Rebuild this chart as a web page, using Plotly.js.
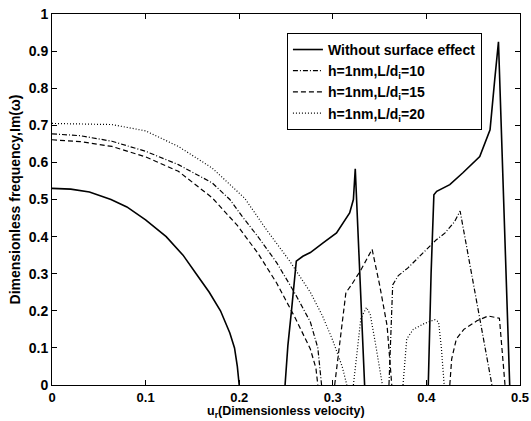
<!DOCTYPE html>
<html>
<head>
<meta charset="utf-8">
<script src="https://cdn.plot.ly/plotly-3.0.1.min.js"></script>
<style>html,body{margin:0;padding:0;background:#fff;}#chart{width:531px;height:421px;}</style>
</head>
<body>
<div id="chart"></div>
<script>
// Series names
var seriesNames = ["Without surface effect", "h=1nm,L/d<sub>i</sub>=10", "h=1nm,L/d<sub>i</sub>=15", "h=1nm,L/d<sub>i</sub>=20"];
var xTitle = "u<sub>r</sub>(Dimensionless velocity)";
var yTitle = "Dimensionless frequency,Im(ω)";

// Without surface effect (solid)
var solidX = [0,0.02,0.04,0.063,0.08,0.10,0.122,0.14,0.154,0.168,0.18,0.19,0.195,0.198,0.2, null,
              0.249,0.252,0.256,0.261,0.268,0.276,0.29,0.304,0.318,0.322,0.324,0.334, null,
              0.402,0.405,0.408,0.411,0.425,0.439,0.457,0.468,0.473,0.477,0.489];
var solidY = [0.53,0.528,0.52,0.50,0.48,0.445,0.40,0.35,0.30,0.25,0.20,0.14,0.10,0.05,0, null,
              0,0.106,0.204,0.334,0.347,0.357,0.384,0.41,0.464,0.50,0.583,0, null,
              0,0.3,0.513,0.522,0.54,0.572,0.616,0.688,0.823,0.925,0];

// h=1nm, L/di=10 (dash-dot)
var ld10X = [0,0.03,0.064,0.1,0.135,0.171,0.19,0.203,0.22,0.24,0.26,0.276,0.284,0.288, null,
             0.36,0.362,0.364,0.37,0.38,0.39,0.40,0.41,0.42,0.43,0.436,0.453,0.47];
var ld10Y = [0.677,0.672,0.657,0.63,0.594,0.545,0.50,0.455,0.40,0.33,0.245,0.17,0.1,0, null,
             0,0.15,0.27,0.295,0.315,0.34,0.365,0.39,0.41,0.44,0.469,0.235,0];

// h=1nm, L/di=15 (dashed)
var ld15X = [0,0.03,0.064,0.1,0.135,0.171,0.198,0.22,0.24,0.26,0.276,0.282,0.284, null,
             0.302,0.308,0.314,0.32,0.33,0.342,0.35,0.358,0.363, null,
             0.425,0.427,0.432,0.44,0.454,0.466,0.478,0.481,0.484];
var ld15Y = [0.661,0.656,0.643,0.615,0.576,0.505,0.43,0.355,0.275,0.18,0.097,0.045,0, null,
             0,0.13,0.249,0.27,0.31,0.366,0.27,0.16,0, null,
             0,0.07,0.124,0.15,0.173,0.186,0.18,0.1,0];

// h=1nm, L/di=20 (dotted)
var ld20X = [0,0.03,0.064,0.1,0.135,0.171,0.206,0.229,0.254,0.276,0.289,0.30,0.31,0.315, null,
             0.322,0.326,0.33,0.336,0.34,0.345,0.35,0.353, null,
             0.375,0.379,0.386,0.398,0.409,0.413,0.416,0.419];
var ld20Y = [0.705,0.704,0.702,0.685,0.643,0.585,0.503,0.419,0.334,0.25,0.186,0.12,0.05,0, null,
             0,0.1,0.18,0.209,0.19,0.12,0.05,0, null,
             0,0.124,0.15,0.166,0.176,0.17,0.1,0];

var xTicks = [0,0.1,0.2,0.3,0.4,0.5];
var yTicks = [0,0.1,0.2,0.3,0.4,0.5,0.6,0.7,0.8,0.9,1];

var fontFam = "Liberation Sans, Arial, sans-serif";
var fs = 14;

var traces = [
  {x: solidX, y: solidY, mode: "lines", name: seriesNames[0], line: {color: "#000", width: 1.6, dash: "solid"}},
  {x: ld10X, y: ld10Y, mode: "lines", name: seriesNames[1], line: {color: "#000", width: 1.2, dash: "5px,2px,1px,2px"}},
  {x: ld15X, y: ld15Y, mode: "lines", name: seriesNames[2], line: {color: "#000", width: 1.2, dash: "5px,3px"}},
  {x: ld20X, y: ld20Y, mode: "lines", name: seriesNames[3], line: {color: "#000", width: 1.2, dash: "1px,2px"}}
];

var axisCommon = {
  showgrid: false, zeroline: false, showline: true, linecolor: "#000", linewidth: 1,
  mirror: "ticks", ticks: "inside", ticklen: 5, tickcolor: "#000",
  tickfont: {family: fontFam, size: fs, color: "#000", weight: "bold"}
};

var layout = {
  width: 531, height: 421,
  margin: {l: 52, r: 11, t: 14, b: 36},
  paper_bgcolor: "#fff", plot_bgcolor: "#fff",
  font: {family: fontFam, size: fs, color: "#000", weight: "bold"},
  showlegend: true,
  legend: {
    x: 0.502, y: 0.949, xanchor: "left", yanchor: "top",
    bgcolor: "#fff", bordercolor: "#000", borderwidth: 1,
    font: {family: fontFam, size: fs, color: "#000", weight: "bold"},
    tracegroupgap: 0
  },
  xaxis: Object.assign({}, axisCommon, {
    range: [0, 0.5], tickvals: xTicks, ticktext: xTicks.map(String),
    tickfont: {family: fontFam, size: 13, color: "#000", weight: "bold"}
  }),
  yaxis: Object.assign({}, axisCommon, {
    range: [0, 1], tickvals: yTicks, ticktext: yTicks.map(String),
    title: {text: yTitle, standoff: 4, font: {family: fontFam, size: fs, color: "#000", weight: "bold"}}
  }),
  annotations: [{
    text: xTitle, xref: "paper", yref: "paper", x: 0.5, y: -0.0965,
    xanchor: "center", yanchor: "bottom", showarrow: false, borderpad: 0,
    font: {family: fontFam, size: 12.5, color: "#000", weight: "bold"}
  }]
};

Plotly.newPlot("chart", traces, layout, {displayModeBar: false, staticPlot: true});
</script>
</body>
</html>
